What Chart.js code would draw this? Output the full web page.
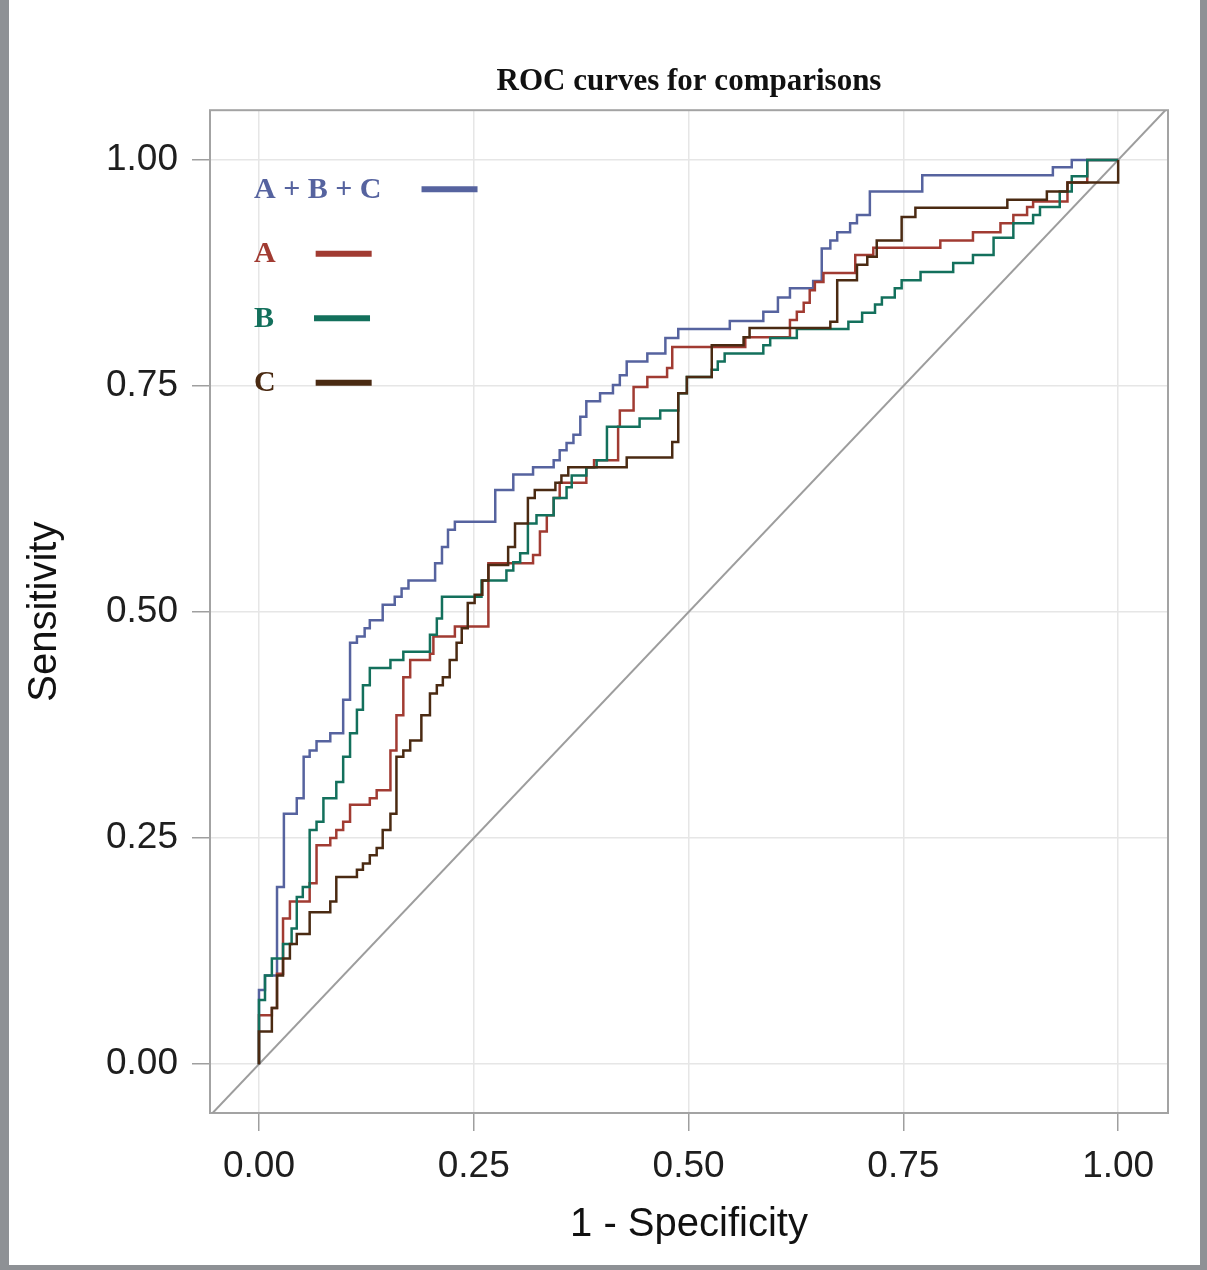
<!DOCTYPE html>
<html>
<head>
<meta charset="utf-8">
<script src="https://cdn.jsdelivr.net/npm/chart.js@4.4.1/dist/chart.umd.min.js"></script>
<style>
  html, body { margin: 0; padding: 0; }
  body { width: 1207px; height: 1270px; background: #8e9195; position: relative; overflow: hidden; }
  #papel { position: absolute; left: 9px; right: 7px; top: 0; bottom: 5px; background: #fff; }
  #chartRoc { position: absolute; left: 0; top: 0; }
</style>
</head>
<body>
<div id="papel"></div>
<canvas id="chartRoc" width="1207" height="1270"></canvas>
<script>
const tickValues = [0, 0.25, 0.5, 0.75, 1];
const diagonal = [-0.06, 1.06];

// A + B + C
const fprABC = [0, 0, 0.007, 0.021, 0.029, 0.044, 0.052, 0.059, 0.067, 0.083, 0.098, 0.106, 0.114, 0.123, 0.129,
  0.144, 0.158, 0.166, 0.174, 0.205, 0.213, 0.220, 0.228, 0.275, 0.296, 0.319, 0.343, 0.350, 0.358, 0.366,
  0.374, 0.381, 0.397, 0.412, 0.420, 0.428, 0.452, 0.473, 0.488, 0.548, 0.587, 0.604, 0.618, 0.645, 0.655,
  0.665, 0.673, 0.688, 0.696, 0.711, 0.772, 0.924, 0.946, 1.000];
const tprABC = [0, 0.082, 0.098, 0.196, 0.277, 0.294, 0.340, 0.347, 0.357, 0.366, 0.403, 0.466, 0.473, 0.482, 0.491,
  0.508, 0.517, 0.526, 0.535, 0.554, 0.572, 0.591, 0.600, 0.635, 0.652, 0.660, 0.668, 0.679, 0.687, 0.696,
  0.716, 0.733, 0.742, 0.751, 0.762, 0.777, 0.786, 0.803, 0.813, 0.822, 0.832, 0.848, 0.858, 0.866, 0.902,
  0.911, 0.920, 0.930, 0.939, 0.965, 0.983, 0.992, 1.000, 1.000];

// A
const fprA = [0, 0, 0.015, 0.021, 0.028, 0.036, 0.059, 0.067, 0.083, 0.090, 0.098, 0.106, 0.129, 0.137, 0.153,
  0.160, 0.168, 0.176, 0.199, 0.203, 0.228, 0.267, 0.319, 0.327, 0.335, 0.343, 0.350, 0.381, 0.390,
  0.418, 0.420, 0.436, 0.452, 0.475, 0.481, 0.566, 0.618, 0.626, 0.634, 0.641, 0.647, 0.657, 0.694, 0.715,
  0.793, 0.831, 0.863, 0.878, 0.894, 0.901, 0.941, 0.964, 1.000];
const tprA = [0, 0.054, 0.062, 0.100, 0.161, 0.180, 0.200, 0.242, 0.250, 0.259, 0.268, 0.287, 0.294, 0.303, 0.347,
  0.386, 0.428, 0.447, 0.454, 0.473, 0.484, 0.554, 0.563, 0.589, 0.607, 0.626, 0.643, 0.660, 0.668,
  0.705, 0.723, 0.749, 0.760, 0.770, 0.793, 0.804, 0.823, 0.832, 0.842, 0.856, 0.865, 0.875, 0.895, 0.903,
  0.911, 0.920, 0.930, 0.939, 0.948, 0.954, 0.975, 1.000, 1.000];

// B
const fprB = [0, 0, 0.007, 0.015, 0.028, 0.038, 0.044, 0.051, 0.059, 0.067, 0.075, 0.090, 0.098, 0.106, 0.114,
  0.121, 0.129, 0.153, 0.168, 0.199, 0.207, 0.213, 0.259, 0.288, 0.296, 0.304, 0.313, 0.323, 0.343, 0.358,
  0.364, 0.381, 0.393, 0.405, 0.443, 0.467, 0.488, 0.498, 0.527, 0.534, 0.542, 0.587, 0.595, 0.626, 0.686,
  0.702, 0.717, 0.725, 0.740, 0.748, 0.770, 0.808, 0.831, 0.855, 0.878, 0.901, 0.909, 0.932, 0.946, 0.964, 1.000];
const tprB = [0, 0.071, 0.098, 0.117, 0.133, 0.150, 0.185, 0.196, 0.259, 0.268, 0.294, 0.312, 0.340, 0.366, 0.392,
  0.419, 0.438, 0.447, 0.456, 0.475, 0.493, 0.517, 0.535, 0.546, 0.555, 0.565, 0.598, 0.607, 0.626, 0.638,
  0.651, 0.660, 0.668, 0.705, 0.714, 0.723, 0.742, 0.760, 0.768, 0.777, 0.786, 0.795, 0.803, 0.813, 0.821,
  0.831, 0.840, 0.848, 0.858, 0.867, 0.876, 0.886, 0.895, 0.914, 0.930, 0.939, 0.948, 0.965, 0.982, 1.000, 1.000];

// C
const fprC = [0, 0, 0.015, 0.021, 0.028, 0.036, 0.044, 0.059, 0.083, 0.090, 0.114, 0.121, 0.129, 0.137, 0.144,
  0.153, 0.160, 0.168, 0.176, 0.189, 0.199, 0.207, 0.214, 0.222, 0.230, 0.236, 0.243, 0.251, 0.260, 0.267,
  0.290, 0.298, 0.313, 0.321, 0.345, 0.352, 0.360, 0.428, 0.481, 0.488, 0.498, 0.527, 0.564, 0.571, 0.665,
  0.673, 0.696, 0.708, 0.719, 0.748, 0.764, 0.871, 0.917, 0.941, 1.000];
const tprC = [0, 0.036, 0.062, 0.098, 0.117, 0.133, 0.144, 0.168, 0.180, 0.207, 0.215, 0.222, 0.231, 0.239, 0.259,
  0.277, 0.340, 0.347, 0.358, 0.386, 0.410, 0.419, 0.428, 0.447, 0.466, 0.482, 0.510, 0.519, 0.535, 0.552,
  0.572, 0.598, 0.626, 0.635, 0.643, 0.651, 0.660, 0.671, 0.688, 0.742, 0.760, 0.795, 0.804, 0.814, 0.821,
  0.867, 0.884, 0.893, 0.911, 0.937, 0.947, 0.956, 0.965, 0.975, 1.000];

const sans = '"Liberation Sans", Arial, sans-serif';
const serif = '"Liberation Serif", "Times New Roman", serif';

function pontos(fpr, tpr) {
  return fpr.map((x, i) => ({ x: x, y: tpr[i] }));
}

function curva(label, fpr, tpr, cor, ordem) {
  return {
    label: label,
    data: pontos(fpr, tpr),
    borderColor: cor,
    borderWidth: 2.5,
    stepped: 'before',
    pointRadius: 0,
    fill: false,
    order: ordem
  };
}

// moldura cinza em volta da area do grafico
const moldura = {
  id: 'moldura',
  beforeDatasetsDraw(chart) {
    const { ctx, chartArea: a } = chart;
    ctx.save();
    ctx.strokeStyle = '#a3a3a3';
    ctx.lineWidth = 2;
    ctx.strokeRect(a.left, a.top, a.right - a.left, a.bottom - a.top);
    ctx.restore();
  }
};

// legenda dentro do grafico: texto e depois a amostra da linha
const legenda = {
  id: 'legenda',
  afterDatasetsDraw(chart) {
    const { ctx, chartArea: a } = chart;
    ctx.save();
    ctx.font = 'bold 30px ' + serif;
    ctx.textBaseline = 'middle';
    let y = a.top + 79;
    chart.data.datasets.forEach(ds => {
      if (!ds.label) return;
      const x = a.left + 44;
      ctx.fillStyle = ds.borderColor;
      ctx.fillText(ds.label, x, y + 1);
      const w = ctx.measureText(ds.label).width;
      ctx.strokeStyle = ds.borderColor;
      ctx.lineWidth = 6;
      ctx.beginPath();
      ctx.moveTo(x + w + 40, y);
      ctx.lineTo(x + w + 96, y);
      ctx.stroke();
      y += 64.5;
    });
    ctx.restore();
  }
};

function eixo(min, max, tituloTexto, tituloPad, ajuste) {
  return {
    type: 'linear',
    min: min,
    max: max,
    afterBuildTicks: s => { s.ticks = tickValues.map(v => ({ value: v })); },
    afterFit: ajuste,
    ticks: {
      callback: v => v.toFixed(2),
      font: { family: sans, size: 37 },
      color: '#1e1e1e',
      padding: 14,
      maxRotation: 0
    },
    grid: {
      color: '#e6e6e6',
      lineWidth: 1.5,
      tickColor: '#9f9f9f',
      tickLength: 18,
      tickWidth: 1.5
    },
    border: { display: false },
    title: {
      display: true,
      text: tituloTexto,
      font: { family: sans, size: 40 },
      color: '#111',
      padding: tituloPad
    }
  };
}

function init() {
  const ctx = document.getElementById('chartRoc').getContext('2d');
  new Chart(ctx, {
    type: 'line',
    data: {
      datasets: [
        curva('A + B + C', fprABC, tprABC, '#56639f', 3),
        curva('A', fprA, tprA, '#a13b32', 2),
        curva('B', fprB, tprB, '#13705c', 1),
        curva('C', fprC, tprC, '#4a2a12', 0),
        {
          data: pontos(diagonal, diagonal),
          borderColor: '#9d9d9d',
          borderWidth: 2,
          pointRadius: 0,
          fill: false,
          order: 10
        }
      ]
    },
    options: {
      responsive: false,
      animation: false,
      layout: { padding: { left: 0, right: 39, top: 0, bottom: 0 } },
      plugins: {
        legend: { display: false },
        tooltip: { enabled: false },
        title: {
          display: true,
          fullSize: false,
          text: 'ROC curves for comparisons',
          color: '#111',
          font: { family: serif, size: 31, weight: 'bold' },
          padding: { top: 63, bottom: 10 }
        }
      },
      scales: {
        x: eixo(-0.057, 1.058, '1 - Specificity', { top: 0, bottom: 21 }, s => { s.height = 157; }),
        y: eixo(-0.054, 1.055, 'Sensitivity', { top: 21, bottom: 0 }, s => { s.width = 210; })
      }
    },
    plugins: [moldura, legenda]
  });
}

window.addEventListener('DOMContentLoaded', init);
</script>
</body>
</html>
